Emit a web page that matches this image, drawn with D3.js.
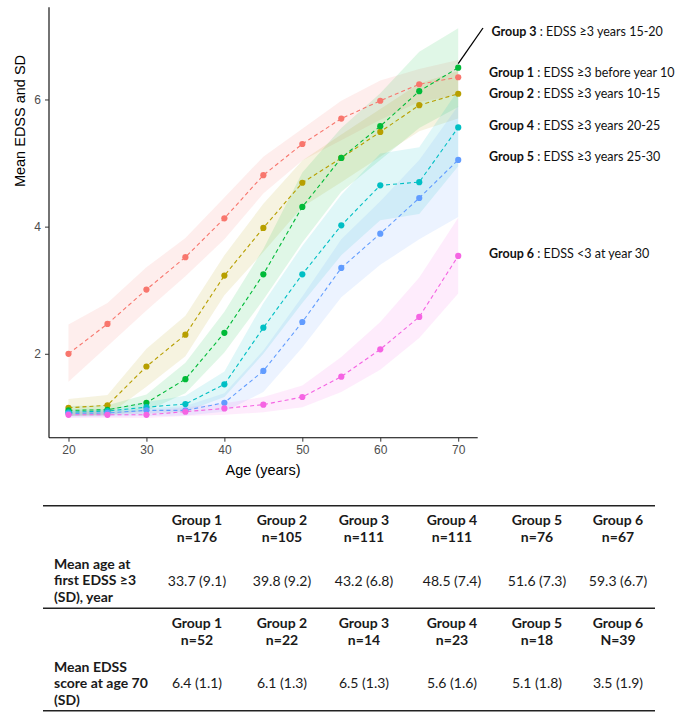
<!DOCTYPE html>
<html><head><meta charset="utf-8">
<script src="https://cdn.jsdelivr.net/npm/d3@7"></script>
<style>body{margin:0;background:#fff}</style>
</head><body>
<script>
const ages = [20,25,30,35,40,45,50,55,60,65,70];
const groups = ["Group 1","Group 2","Group 3","Group 4","Group 5","Group 6"];
const colors = ["#F8766D","#B79F00","#00BA38","#00BFC4","#619CFF","#F564E3"];
const mean1 = [2.00,2.47,3.01,3.52,4.13,4.81,5.30,5.70,5.98,6.24,6.35];
const mean2 = [1.15,1.19,1.80,2.30,3.23,3.98,4.69,5.08,5.49,5.91,6.09];
const mean3 = [1.11,1.12,1.23,1.60,2.33,3.25,4.31,5.08,5.58,6.13,6.50];
const mean4 = [1.08,1.10,1.16,1.21,1.52,2.41,3.25,4.02,4.65,4.70,5.56];
const mean5 = [1.06,1.07,1.11,1.11,1.23,1.73,2.50,3.35,3.89,4.45,5.05];
const mean6 = [1.04,1.04,1.04,1.09,1.14,1.20,1.32,1.64,2.07,2.58,3.54];
const lo1 = [1.56,2.12,2.68,3.22,3.80,4.52,5.04,5.36,5.68,5.96,6.07];
const hi1 = [2.46,2.80,3.36,3.82,4.46,5.10,5.54,5.98,6.30,6.48,6.62];
const lo2 = [1.02,1.03,1.48,1.96,2.92,3.60,4.31,4.70,5.10,5.50,5.70];
const hi2 = [1.29,1.35,2.08,2.60,3.55,4.36,5.04,5.45,5.85,6.25,6.45];
const lo3 = [1.03,1.04,1.10,1.38,2.02,2.85,3.75,4.55,5.05,5.55,5.88];
const hi3 = [1.18,1.19,1.36,1.86,2.66,3.65,4.85,5.55,6.10,6.75,7.12];
const lo4 = [1.02,1.03,1.06,1.09,1.32,2.00,2.80,3.55,4.10,4.20,4.95];
const hi4 = [1.12,1.13,1.24,1.34,1.72,2.80,3.70,4.50,5.15,5.25,6.15];
const lo5 = [1.00,1.01,1.02,1.03,1.09,1.40,2.10,2.89,3.40,3.80,4.15];
const hi5 = [1.10,1.11,1.14,1.18,1.38,2.05,2.90,3.80,4.40,5.05,5.90];
const lo6 = [0.99,0.99,0.99,1.02,1.04,1.08,1.16,1.40,1.75,2.25,2.95];
const hi6 = [1.09,1.09,1.10,1.16,1.22,1.32,1.50,1.95,2.50,3.20,4.14];
const xTicks = [20,30,40,50,60,70];
const yTicks = [2,4,6];
const labelOrder = [3,1,2,4,5,6];
const labelDesc = {1:"EDSS \u22653 before year 10",2:"EDSS \u22653 years 10-15",3:"EDSS \u22653 years 15-20",4:"EDSS \u22653 years 20-25",5:"EDSS \u22653 years 25-30",6:"EDSS <3 at year 30"};
const tableN1 = ["n=176","n=105","n=111","n=111","n=76","n=67"];
const tableAge = ["33.7 (9.1)","39.8 (9.2)","43.2 (6.8)","48.5 (7.4)","51.6 (7.3)","59.3 (6.7)"];
const tableN2 = ["n=52","n=22","n=14","n=23","n=18","N=39"];
const tableEdss = ["6.4 (1.1)","6.1 (1.3)","6.5 (1.3)","5.6 (1.6)","5.1 (1.8)","3.5 (1.9)"];
const rowLabel1 = ["Mean age at","first EDSS \u22653","(SD), year"];
const rowLabel2 = ["Mean EDSS","score at age 70","(SD)"];

const means=[mean1,mean2,mean3,mean4,mean5,mean6];
const los=[lo1,lo2,lo3,lo4,lo5,lo6];
const his=[hi1,hi2,hi3,hi4,hi5,hi6];

const W=685,H=716;
const svg=d3.select("body").append("svg").attr("width",W).attr("height",H);
const x=d3.scaleLinear().domain([17.5,72.5]).range([49,477.7]);
const y=d3.scaleLinear().domain([0.68,7.45]).range([437.7,7.3]);

const area=d3.area().x(d=>x(d.a)).y0(d=>y(d.lo)).y1(d=>y(d.hi));
const line=d3.line().x(d=>x(d.a)).y(d=>y(d.m));
const series=groups.map((g,i)=>ages.map((a,j)=>({a,m:means[i][j],lo:los[i][j],hi:his[i][j]})));

const plot=svg.append("g");
series.forEach((s,i)=>plot.append("path").attr("d",area(s)).attr("fill",colors[i]).attr("fill-opacity",0.12));
series.forEach((s,i)=>plot.append("path").attr("d",line(s)).attr("fill","none").attr("stroke",colors[i]).attr("stroke-width",1.1).attr("stroke-dasharray","4,3"));
series.forEach((s,i)=>plot.selectAll(null).data(s).enter().append("circle").attr("cx",d=>x(d.a)).attr("cy",d=>y(d.m)).attr("r",3.1).attr("fill",colors[i]));

const fAx="'Liberation Sans',Arial,sans-serif";
const gx=svg.append("g").attr("transform","translate(0,437.7)").call(d3.axisBottom(x).tickValues(xTicks).tickFormat(d3.format("d")).tickSize(4).tickPadding(4));
const gy=svg.append("g").attr("transform","translate(49,0)").call(d3.axisLeft(y).tickValues(yTicks).tickFormat(d3.format("d")).tickSize(4).tickPadding(4));
[gx,gy].forEach(g=>{g.select(".domain").attr("stroke","#000").attr("stroke-width",1.1);
 g.selectAll(".tick line").attr("stroke","#333");
 g.selectAll(".tick text").attr("fill","#4D4D4D").style("font-family",fAx).style("font-size","12px");});
gx.select(".domain").attr("d","M49,0H477.7");
gy.select(".domain").attr("d","M0,7.3V437.7");

svg.append("text").attr("x",263).attr("y",475).attr("text-anchor","middle").style("font-family",fAx).style("font-size","14.5px").text("Age (years)");
svg.append("text").attr("transform","translate(25,121) rotate(-90)").attr("text-anchor","middle").style("font-family",fAx).style("font-size","14.5px").text("Mean EDSS and SD");

// leader line from Group 3 point at age 70
svg.append("line").attr("x1",x(70)).attr("y1",y(mean3[10])-4).attr("x2",483).attr("y2",28).attr("stroke","#000").attr("stroke-width",1.3);

const fT="Lato,'Open Sans',sans-serif";
const labelY={3:36,1:77,2:98,4:130,5:161,6:258};
labelOrder.forEach(g=>{
  const t=svg.append("text").attr("x",g===3?491.5:489).attr("y",labelY[g]).style("font-family",fT).style("font-size","12.5px").attr("fill","#111");
  t.append("tspan").attr("font-weight","bold").text(groups[g-1]);
  t.append("tspan").text(" : "+labelDesc[g]);
});

// table
const colX=[197,282,364,452,537,618];
const rule=(yy)=>svg.append("line").attr("x1",43).attr("x2",655).attr("y1",yy).attr("y2",yy).attr("stroke","#222").attr("stroke-width",1.6);
rule(505.7);rule(608.3);rule(710.7);
const txt=(xx,yy,s,bold,anchor)=>svg.append("text").attr("x",xx).attr("y",yy).attr("text-anchor",anchor||"middle").style("font-family",fT).style("font-size","14px").attr("font-weight",bold?"bold":"normal").attr("fill","#1a1a1a").text(s);
groups.forEach((g,i)=>{
  txt(colX[i],525,g,true); txt(colX[i],541.5,tableN1[i],true);
  txt(colX[i],585.5,tableAge[i],false);
  txt(colX[i],628,g,true); txt(colX[i],644.5,tableN2[i],true);
  txt(colX[i],688,tableEdss[i],false);
});
rowLabel1.forEach((s,k)=>txt(54,568.5+k*16.7,s,true,"start"));
rowLabel2.forEach((s,k)=>txt(54,671.5+k*16.7,s,true,"start"));
</script>
</body></html>
